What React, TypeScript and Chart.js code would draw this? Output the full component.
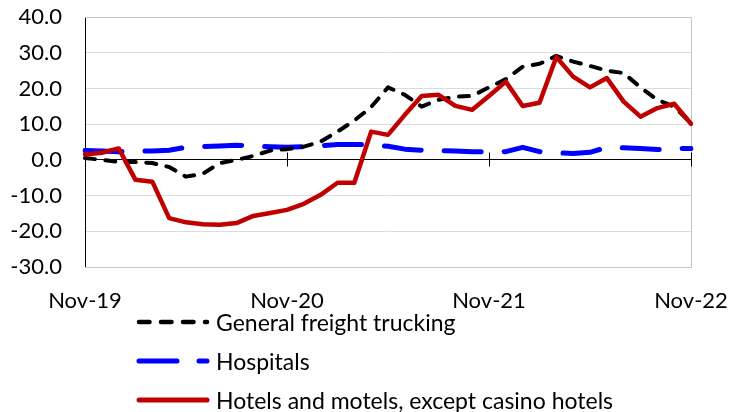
import React, { useEffect, useRef } from "react";
import { Chart, registerables } from "chart.js";

Chart.register(...registerables);

const months = [
  "Nov-19", "Dec-19", "Jan-20", "Feb-20", "Mar-20", "Apr-20", "May-20", "Jun-20", "Jul-20", "Aug-20", "Sep-20", "Oct-20",
  "Nov-20", "Dec-20", "Jan-21", "Feb-21", "Mar-21", "Apr-21", "May-21", "Jun-21", "Jul-21", "Aug-21", "Sep-21", "Oct-21",
  "Nov-21", "Dec-21", "Jan-22", "Feb-22", "Mar-22", "Apr-22", "May-22", "Jun-22", "Jul-22", "Aug-22", "Sep-22", "Oct-22",
  "Nov-22",
];

const tickLabels = ["Nov-19", "Nov-20", "Nov-21", "Nov-22"];

const trucking = [
  0.5, 0.0, -0.6, -0.6, -0.9, -2.0, -4.7, -3.9, -0.9, 0.0, 1.1, 2.6,
  3.0, 3.7, 5.1, 7.9, 11.0, 14.8, 20.3, 18.2, 14.9, 16.8, 17.7, 17.9,
  20.3, 22.6, 26.1, 26.9, 29.1, 27.5, 26.3, 25.0, 24.3, 20.3, 16.8, 14.9,
  10.3,
];

const hospitals = [
  2.6, 2.5, 2.3, 2.5, 2.5, 2.7, 3.5, 3.7, 3.9, 4.1, 3.9, 3.7,
  3.5, 3.7, 3.9, 4.3, 4.3, 4.3, 3.8, 3.0, 2.7, 2.6, 2.5, 2.3,
  2.2, 2.3, 3.5, 2.3, 2.0, 1.8, 2.1, 3.5, 3.4, 3.2, 2.9, 3.1,
  3.2,
];

const hotels = [
  1.5, 2.0, 3.2, -5.6, -6.1, -16.3, -17.5, -18.0, -18.2, -17.7, -15.7, -14.9,
  -14.0, -12.3, -9.8, -6.4, -6.4, 7.9, 7.0, 12.6, 17.9, 18.2, 15.1, 14.0,
  17.9, 21.9, 15.1, 16.0, 28.8, 23.3, 20.3, 22.9, 16.3, 12.1, 14.5, 15.7,
  10.1,
];

const seriesNames = [
  "General freight trucking",
  "Hospitals",
  "Hotels and motels, except casino hotels",
];

const FONT = "Lato";

const framePlugin = {
  id: "frame",
  beforeDatasetsDraw(chart: any) {
    const { ctx, chartArea, scales } = chart;
    const { left, right, top, bottom } = chartArea;
    const x = scales.x;
    const y = scales.y;
    ctx.save();
    ctx.lineWidth = 1;
    ctx.strokeStyle = "#c4c4c4";
    const t = Math.floor(top) + 0.5;
    const b = Math.floor(bottom) + 0.5;
    const r = Math.floor(right) + 0.5;
    ctx.beginPath();
    ctx.moveTo(left, t);
    ctx.lineTo(r, t);
    ctx.lineTo(r, b);
    ctx.lineTo(left, b);
    ctx.stroke();
    const y0 = Math.floor(y.getPixelForValue(0)) + 0.5;
    ctx.strokeStyle = "#000";
    ctx.beginPath();
    months.forEach((m, i) => {
      if (tickLabels.includes(m)) {
        const px = Math.floor(x.getPixelForValue(i)) + 0.5;
        ctx.moveTo(px, y0 - 7);
        ctx.lineTo(px, y0 + 7);
      }
    });
    ctx.stroke();
    ctx.restore();
  },
};

const legendItems = [
  { name: seriesNames[0], color: "#000000", width: 4.5, dash: "10.5 11.5" },
  { name: seriesNames[1], color: "#0000ff", width: 5, dash: "38 22" },
  { name: seriesNames[2], color: "#c00000", width: 5, dash: "" },
];

const legendCenters = [322, 361, 400];

export default function App() {
  const canvasRef = useRef<HTMLCanvasElement | null>(null);

  useEffect(() => {
    if (!canvasRef.current) return;
    Chart.defaults.font.family = FONT;
    const chart = new Chart(canvasRef.current, {
      type: "line",
      data: {
        labels: months,
        datasets: [
          {
            label: seriesNames[0],
            data: trucking,
            borderColor: "#000000",
            borderWidth: 4,
            borderDash: [10, 10.5],
            borderCapStyle: "round",
            borderJoinStyle: "round",
            pointRadius: 0,
            tension: 0,
            fill: false,
            order: 1,
          },
          {
            label: seriesNames[1],
            data: hospitals,
            borderColor: "#0000ff",
            borderWidth: 5,
            borderDash: [37, 23],
            borderCapStyle: "round",
            borderJoinStyle: "round",
            pointRadius: 0,
            tension: 0,
            fill: false,
            order: 2,
          },
          {
            label: seriesNames[2],
            data: hotels,
            borderColor: "#c00000",
            borderWidth: 4.5,
            borderCapStyle: "round",
            borderJoinStyle: "round",
            pointRadius: 0,
            tension: 0,
            fill: false,
            order: 0,
          },
        ],
      },
      options: {
        animation: false,
        responsive: false,
        layout: { padding: { top: 17, right: 46, left: 0, bottom: 0 } },
        plugins: {
          legend: { display: false },
          tooltip: { enabled: false },
        },
        scales: {
          x: {
            type: "category",
            offset: false,
            grid: {
              display: true,
              drawOnChartArea: false,
              drawTicks: true,
              tickLength: 21,
              color: "rgba(0,0,0,0)",
              tickColor: "rgba(0,0,0,0)",
            },
            border: { display: false },
            ticks: {
              autoSkip: false,
              maxRotation: 0,
              minRotation: 0,
              padding: 0,
              color: "#000",
              font: { family: FONT, size: 22 },
              callback: (val: any, idx: number) =>
                tickLabels.includes(months[idx]) ? months[idx] : "",
            },
            afterFit: (scale: any) => {
              scale.height = 145;
            },
          },
          y: {
            min: -30,
            max: 40,
            grid: {
              drawTicks: true,
              tickLength: 23,
              tickColor: "rgba(0,0,0,0)",
              color: (ctx: any) => (ctx.tick && ctx.tick.value === 0 ? "#000000" : "#dcdcdc"),
              lineWidth: 1,
            },
            border: { display: true, color: "#000000", width: 1 },
            ticks: {
              stepSize: 10,
              padding: 0,
              color: "#000",
              font: { family: FONT, size: 22 },
              callback: (v: any) => Number(v).toFixed(1),
            },
            afterFit: (scale: any) => {
              scale.width = 85;
            },
          },
        },
      },
      plugins: [framePlugin],
    } as any);
    return () => chart.destroy();
  }, []);

  return (
    <div
      style={{
        position: "absolute",
        left: 0,
        top: 0,
        width: 737,
        height: 412,
        background: "#fff",
        overflow: "hidden",
      }}
    >
      <canvas ref={canvasRef} width={737} height={412} style={{ display: "block" }} />
      {legendItems.map((it, i) => (
        <div
          key={it.name}
          style={{
            position: "absolute",
            left: 136,
            top: legendCenters[i] - 14,
            height: 28,
            display: "flex",
            alignItems: "center",
            whiteSpace: "nowrap",
          }}
        >
          <svg width={76} height={12} style={{ display: "block" }}>
            <line
              x1={3}
              y1={6}
              x2={71}
              y2={6}
              stroke={it.color}
              strokeWidth={it.width}
              strokeLinecap="round"
              strokeDasharray={it.dash || undefined}
            />
          </svg>
          <span
            style={{
              fontFamily: FONT,
              fontSize: 23,
              lineHeight: "28px",
              color: "#000",
              marginLeft: 4,
            }}
          >
            {it.name}
          </span>
        </div>
      ))}
    </div>
  );
}
